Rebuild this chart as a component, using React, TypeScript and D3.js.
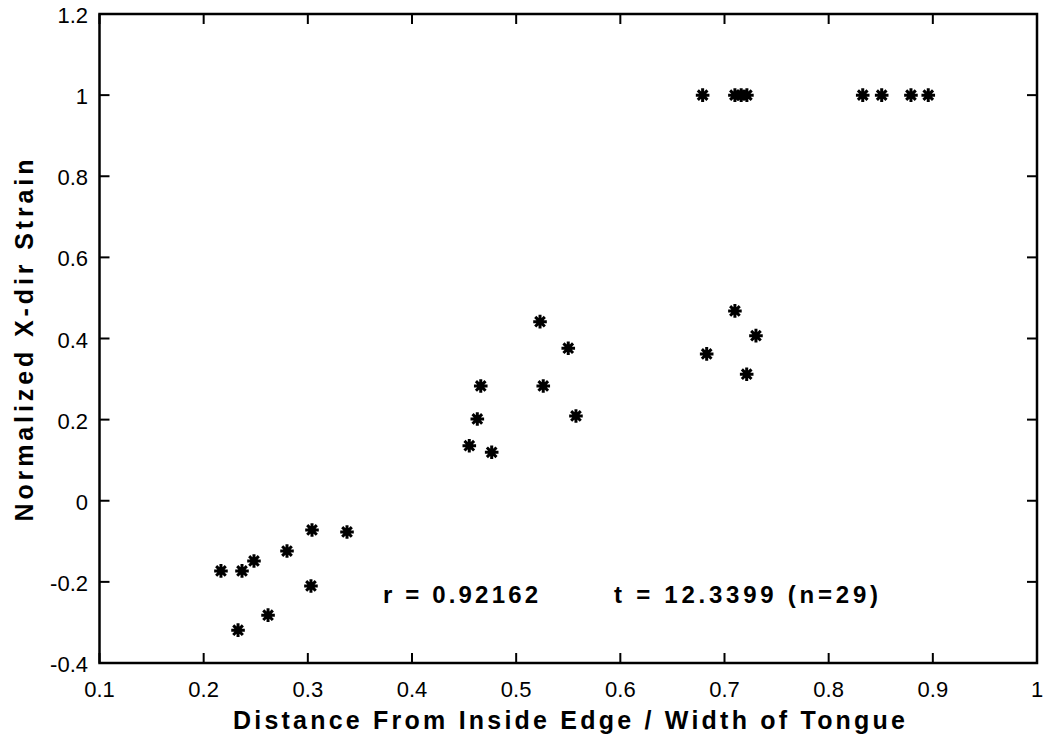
import React from "react";
import * as d3 from "d3";

const xs: number[] = [
  0.2166, 0.2368, 0.2483, 0.28, 0.303, 0.2618, 0.233, 0.304, 0.3376,
  0.5229, 0.55, 0.466, 0.526, 0.4627, 0.5574, 0.455, 0.4765,
  0.71, 0.7302, 0.6829, 0.7213,
  0.679, 0.71, 0.716, 0.7215, 0.8327, 0.8509, 0.879, 0.8956,
];
const ys: number[] = [
  -0.173, -0.173, -0.1485, -0.124, -0.21, -0.282, -0.319, -0.072, -0.077,
  0.4415, 0.376, 0.283, 0.283, 0.2016, 0.209, 0.1357, 0.1195,
  0.468, 0.407, 0.362, 0.312,
  1, 1, 1, 1, 1, 1, 1, 1,
];
const xTicks = [0.1, 0.2, 0.3, 0.4, 0.5, 0.6, 0.7, 0.8, 0.9, 1];
const yTicks = [-0.4, -0.2, 0, 0.2, 0.4, 0.6, 0.8, 1, 1.2];
const xTitle = "Distance From Inside Edge / Width of Tongue";
const yTitle = "Normalized X-dir Strain";
const rText = "r = 0.92162";
const tText = "t = 12.3399 (n=29)";

const W = 1045;
const H = 738;
const L = 99.5, R = 1037, T = 14, B = 663;

export default function App() {
  const x = d3.scaleLinear().domain([0.1, 1]).range([L, R]);
  const y = d3.scaleLinear().domain([-0.4, 1.2]).range([B, T]);
  const fmt = (v: number) => String(Math.round(v * 10) / 10);
  const star = (cx: number, cy: number, i: number) => {
    const r = 6.8;
    const d = [0, 45, 90, 135]
      .map((a) => {
        const rad = (a * Math.PI) / 180;
        const dx = r * Math.cos(rad), dy = r * Math.sin(rad);
        return `M${cx - dx},${cy - dy}L${cx + dx},${cy + dy}`;
      })
      .join("");
    return (
      <g key={i}>
        <path d={d} stroke="#000" strokeWidth={3} fill="none" />
        <circle cx={cx} cy={cy} r={3.4} fill="#000" />
      </g>
    );
  };
  const tickFont = { fontFamily: "'Liberation Sans', Arial, sans-serif", fontSize: 22 };
  const boldFont = { fontFamily: "'Liberation Sans', Arial, sans-serif", fontSize: 24, fontWeight: 700 };
  return (
    <svg
      width={W}
      height={H}
      style={{ position: "absolute", left: 0, top: 0, background: "#fff" }}
    >
      <rect x={0} y={0} width={W} height={H} fill="#fff" />
      {xTicks.map((t, i) => (
        <g key={"xt" + i}>
          <line x1={x(t)} x2={x(t)} y1={B} y2={B - 10} stroke="#000" strokeWidth={2} />
          <line x1={x(t)} x2={x(t)} y1={T} y2={T + 10} stroke="#000" strokeWidth={2} />
          <text x={x(t)} y={697} textAnchor="middle" {...tickFont}>
            {fmt(t)}
          </text>
        </g>
      ))}
      {yTicks.map((t, i) => (
        <g key={"yt" + i}>
          <line x1={L} x2={L + 10} y1={y(t)} y2={y(t)} stroke="#000" strokeWidth={2} />
          <line x1={R} x2={R - 10} y1={y(t)} y2={y(t)} stroke="#000" strokeWidth={2} />
          <text x={88} y={y(t) + 9} textAnchor="end" {...tickFont}>
            {fmt(t)}
          </text>
        </g>
      ))}
      <rect x={L} y={T} width={R - L} height={B - T} fill="none" stroke="#000" strokeWidth={2.5} />
      {xs.map((v, i) => star(x(v), y(ys[i]), i))}
      <text x={383} y={603} textLength={155} lengthAdjust="spacing" {...boldFont}>
        {rText}
      </text>
      <text x={614} y={603} textLength={264} lengthAdjust="spacing" {...boldFont}>
        {tText}
      </text>
      <text x={233} y={729} textLength={672} lengthAdjust="spacing" {...boldFont} fontSize={25}>
        {xTitle}
      </text>
      <text
        transform={`translate(33, ${(T + B) / 2 + 183}) rotate(-90)`}
        x={0}
        y={0}
        textLength={362}
        lengthAdjust="spacing"
        {...boldFont}
        fontSize={25}
      >
        {yTitle}
      </text>
    </svg>
  );
}
